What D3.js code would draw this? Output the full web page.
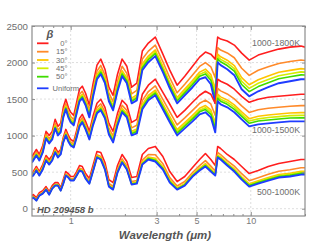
<!DOCTYPE html>
<html><head><meta charset="utf-8">
<script src="https://cdn.jsdelivr.net/npm/d3@7"></script>
<style>body{margin:0;background:#fff}svg{display:block}text{font-family:"Liberation Sans",Arial,sans-serif}</style>
</head><body><svg id="c" width="311" height="246"></svg>
<script>
const wavelength = [0.61,0.62,0.645,0.67,0.70,0.73,0.76,0.79,0.82,0.85,0.88,0.91,0.94,0.97,1.00,1.04,1.08,1.12,1.16,1.21,1.27,1.33,1.40,1.47,1.55,1.63,1.72,1.82,1.93,2.05,2.18,2.33,2.50,2.70,2.95,3.25,3.55,3.90,4.30,4.75,5.20,5.60,6.00,6.35,6.55,6.80,7.40,8.10,8.90,9.80,11.0,12.5,14.3,16.5,19.0,20.0];
const betaLabels = ["0°","15°","30°","45°","50°","Uniform"];
const groupLabels = ["1000-1800K","1000-1500K","500-1000K"];
const yTicks = [0,500,1000,1500,2000,2500];
const xTicks = [1,3,5,10];
const xMinor = [0.7,0.8,0.9,2,4,6,7,8,9,20];

// 1000-1800K
const g1_0   = [714,742,810,742,865,1058,1003,1058,1223,1126,1168,1387,1497,1387,1319,1277,1456,1635,1676,1580,1415,1703,1964,2047,1909,1662,1552,1841,2047,1950,1662,1717,2157,2266,2349,2115,1896,1690,1813,1950,2074,2143,2115,2047,2349,2321,2294,2239,2129,2033,2102,2143,2184,2211,2225,2211];
const g1_15  = [680,707,776,707,825,1018,957,1012,1171,1074,1116,1329,1439,1329,1261,1219,1393,1566,1607,1511,1346,1628,1883,1960,1828,1581,1465,1743,1949,1852,1570,1619,2047,2156,2239,2011,1792,1586,1703,1829,1947,1999,1942,1793,2205,2171,2132,2066,1922,1825,1894,1941,1988,2015,2035,2027];
const g1_30  = [658,686,754,686,800,993,928,983,1139,1042,1084,1294,1404,1294,1225,1184,1353,1523,1564,1468,1303,1582,1833,1907,1778,1531,1412,1682,1888,1792,1512,1558,1980,2089,2172,1947,1727,1521,1636,1754,1869,1909,1835,1636,2115,2078,2032,1959,1793,1696,1765,1816,1866,1893,1917,1912];
const g1_45  = [650,677,746,677,790,983,917,972,1126,1030,1071,1280,1390,1280,1211,1170,1338,1506,1547,1451,1286,1564,1814,1886,1759,1512,1391,1658,1864,1768,1490,1534,1953,2062,2145,1922,1703,1497,1609,1725,1838,1875,1794,1575,2081,2043,1994,1918,1744,1647,1716,1768,1820,1847,1872,1869];
const g1_50  = [643,670,739,670,781,974,907,962,1115,1019,1060,1268,1378,1268,1199,1158,1325,1491,1532,1436,1271,1548,1797,1868,1742,1495,1373,1637,1843,1747,1471,1513,1930,2039,2122,1900,1680,1474,1586,1699,1811,1844,1757,1521,2050,2010,1959,1881,1699,1602,1671,1725,1778,1805,1831,1829];
const g1_uni = [632,659,728,659,769,962,893,948,1099,1003,1044,1250,1360,1250,1181,1140,1305,1470,1511,1415,1250,1525,1772,1841,1717,1470,1346,1607,1813,1717,1442,1483,1896,2005,2088,1868,1648,1442,1552,1662,1772,1799,1703,1442,2005,1964,1909,1827,1635,1538,1607,1662,1717,1744,1772,1772];
// 1000-1500K
const g2_0   = [481,508,577,508,604,728,673,728,838,769,810,975,1085,1003,948,920,1071,1236,1291,1195,1058,1264,1442,1497,1387,1168,1058,1305,1483,1415,1181,1223,1566,1690,1772,1593,1429,1250,1346,1456,1552,1607,1566,1442,1772,1744,1703,1635,1538,1456,1497,1525,1538,1552,1566,1566];
const g2_15  = [464,485,554,485,575,699,644,699,809,740,781,946,1051,968,913,886,1031,1190,1245,1149,1012,1212,1384,1434,1324,1104,995,1236,1414,1346,1106,1142,1479,1603,1680,1495,1325,1146,1242,1346,1442,1486,1433,1275,1645,1612,1570,1502,1406,1317,1353,1375,1388,1402,1410,1410];
const g2_30  = [453,471,540,471,558,681,626,681,791,723,764,929,1029,947,892,864,1006,1161,1216,1120,983,1180,1349,1394,1284,1065,955,1193,1371,1303,1060,1092,1426,1549,1622,1435,1260,1082,1178,1279,1375,1411,1351,1171,1567,1530,1488,1420,1324,1232,1264,1282,1295,1309,1314,1314];
const g2_45  = [449,465,534,465,551,674,619,674,784,716,757,922,1021,938,883,856,996,1150,1205,1109,972,1167,1335,1379,1269,1049,940,1176,1355,1286,1042,1072,1405,1529,1600,1411,1236,1057,1153,1252,1348,1382,1320,1132,1536,1498,1457,1389,1292,1199,1229,1247,1260,1274,1277,1277];
const g2_50  = [445,460,529,460,545,668,613,668,778,710,751,916,1014,931,876,849,987,1140,1195,1099,962,1156,1323,1366,1256,1036,927,1161,1340,1271,1026,1055,1387,1510,1581,1390,1213,1035,1131,1229,1325,1356,1291,1096,1509,1470,1428,1360,1264,1169,1199,1214,1227,1241,1243,1243];
const g2_uni = [440,453,522,453,536,659,604,659,769,701,742,907,1003,920,865,838,975,1126,1181,1085,948,1140,1305,1346,1236,1016,907,1140,1319,1250,1003,1030,1360,1483,1552,1360,1181,1003,1099,1195,1291,1319,1250,1044,1470,1429,1387,1319,1223,1126,1154,1168,1181,1195,1195,1195];
// 500-1000K
const g3_0   = [179,192,151,220,247,302,234,316,357,357,288,398,508,481,440,440,508,591,577,481,412,591,783,769,632,398,357,591,742,646,426,440,742,824,852,714,508,371,440,563,673,755,673,591,852,824,742,673,577,481,522,577,618,646,673,673];
const g3_15  = [156,169,128,197,224,279,211,293,334,334,265,368,478,451,410,410,478,553,539,443,374,545,738,716,579,345,304,538,682,586,373,387,666,741,739,616,425,311,372,495,590,657,582,515,769,741,659,582,479,383,424,471,512,533,560,560];
const g3_30  = [146,160,119,188,215,270,201,284,325,325,256,355,465,438,397,397,465,537,523,427,358,526,719,694,557,323,282,515,656,560,351,364,634,706,691,575,390,285,343,467,555,616,544,483,734,706,624,544,437,341,382,427,468,485,512,512];
const g3_45  = [143,157,116,185,212,267,198,281,322,322,253,351,461,434,393,393,461,532,518,422,353,520,713,687,550,316,275,509,649,553,344,358,625,696,677,563,380,278,335,458,545,604,533,474,724,696,614,533,425,329,370,414,455,471,498,498];
const g3_50  = [140,154,113,182,209,264,195,278,319,319,250,347,457,430,389,389,457,528,514,418,349,515,708,681,544,310,269,502,641,545,338,351,615,685,662,550,369,270,326,450,534,591,521,464,713,685,603,521,412,316,357,400,441,456,483,483];
const g3_uni = [137,151,110,179,206,261,192,275,316,316,247,343,453,426,385,385,453,522,508,412,343,508,701,673,536,302,261,494,632,536,330,343,604,673,646,536,357,261,316,440,522,577,508,453,701,673,591,508,398,302,343,385,426,440,467,467];

const colors = ["#ff1e1e","#ff8a2a","#ffc400","#d2ee00","#3fdc00","#1f3cff"];
const groups = [
  [g1_0,g1_15,g1_30,g1_45,g1_50,g1_uni],
  [g2_0,g2_15,g2_30,g2_45,g2_50,g2_uni],
  [g3_0,g3_15,g3_30,g3_45,g3_50,g3_uni]
];

const L=32,R=305,T=26,B=216;
const svg = d3.select("#c");
const x = d3.scaleLog().domain([0.61,20]).range([L,R]);
const y = d3.scaleLinear().domain([-100,2500]).range([B,T]);

svg.append("defs").append("clipPath").attr("id","clip")
  .append("rect").attr("x",L).attr("y",T).attr("width",R-L).attr("height",B-T);

// grid
const grid = svg.append("g").attr("stroke","#d6d6d6").attr("stroke-width",0.8).attr("stroke-dasharray","2,2");
grid.selectAll(".h").data(yTicks.slice(0,-1)).join("line")
  .attr("x1",L).attr("x2",R).attr("y1",d=>y(d)).attr("y2",d=>y(d));
grid.selectAll(".v").data(xTicks).join("line")
  .attr("y1",T).attr("y2",B).attr("x1",d=>x(d)).attr("x2",d=>x(d));

// spectra
const line = d3.line().x((d,i)=>x(wavelength[i])).y(d=>y(d));
const plot = svg.append("g").attr("clip-path","url(#clip)");
groups.forEach(g=>{
  g.forEach((s,k)=>{
    plot.append("path").datum(s).attr("d",line).attr("fill","none")
      .attr("stroke",colors[k]).attr("stroke-width",k===5?1.9:1.6)
      .attr("stroke-linejoin","round");
  });
});

// axes
const tc="#6e6e6e";
const ax = (g)=>{g.select(".domain").remove(); g.selectAll("line").attr("stroke","#8c8c8c");};
svg.append("g").attr("transform",`translate(${L},0)`)
  .call(d3.axisLeft(y).tickValues(yTicks).tickSize(-3).tickPadding(4).tickFormat(d3.format("d")))
  .call(ax).call(g=>g.selectAll("text").attr("fill",tc).style("font-size","9.7px").style("font-family","Liberation Sans, Arial"));
svg.append("g").attr("transform",`translate(${R},0)`)
  .call(d3.axisRight(y).tickValues(yTicks).tickSize(-3).tickFormat(""))
  .call(ax);
svg.append("g").attr("transform",`translate(0,${B})`)
  .call(d3.axisBottom(x).tickValues(xTicks).tickSize(-4).tickPadding(2).tickFormat(d3.format("d")))
  .call(ax).call(g=>g.selectAll("text").attr("fill","#7a7a7a").style("font-size","9px").style("font-family","Liberation Sans, Arial"));
svg.append("g").attr("transform",`translate(0,${B})`)
  .call(d3.axisBottom(x).tickValues(xMinor).tickSize(-2).tickFormat(""))
  .call(ax);
svg.append("g").attr("transform",`translate(0,${T})`)
  .call(d3.axisTop(x).tickValues(xTicks).tickSize(-4).tickFormat(""))
  .call(ax);
svg.append("g").attr("transform",`translate(0,${T})`)
  .call(d3.axisTop(x).tickValues(xMinor).tickSize(-2).tickFormat(""))
  .call(ax);

// frame
svg.append("rect").attr("x",L).attr("y",T).attr("width",R-L).attr("height",B-T)
  .attr("fill","none").attr("stroke","#8c8c8c").attr("stroke-width",1.2);

// legend
svg.append("text").attr("x",50).attr("y",38).attr("text-anchor","middle")
  .attr("fill","#555").style("font-size","11px").style("font-weight","bold").style("font-style","italic").text("β");
const rowsY = [43.3,51.7,60,68.3,76.7,88.3];
betaLabels.forEach((lab,k)=>{
  svg.append("line").attr("x1",37).attr("x2",48.5).attr("y1",rowsY[k]).attr("y2",rowsY[k])
    .attr("stroke",colors[k]).attr("stroke-width",1.8);
  const t = svg.append("text").attr("y",rowsY[k]+2.6).attr("fill","#6e6e6e").style("font-size","7.6px").text(lab);
  if(k<5) t.attr("x",67.5).attr("text-anchor","end"); else t.attr("x",52.5);
});

// annotations
const ann = [[300,46],[300,133],[300,195]];
groupLabels.forEach((g,i)=>{
  svg.append("text").attr("x",ann[i][0]).attr("y",ann[i][1]).attr("text-anchor","end")
    .attr("fill","#6e6e6e").style("font-size","8.8px").text(g);
});
svg.append("text").attr("x",37).attr("y",212.5).attr("fill","#555")
  .style("font-size","9.5px").style("font-weight","bold").style("font-style","italic").text("HD 209458 b");
svg.append("text").attr("x",165).attr("y",238.5).attr("text-anchor","middle").attr("fill","#555")
  .style("font-size","11.5px").style("font-weight","bold").style("font-style","italic").text("Wavelength (μm)");
</script></body></html>
